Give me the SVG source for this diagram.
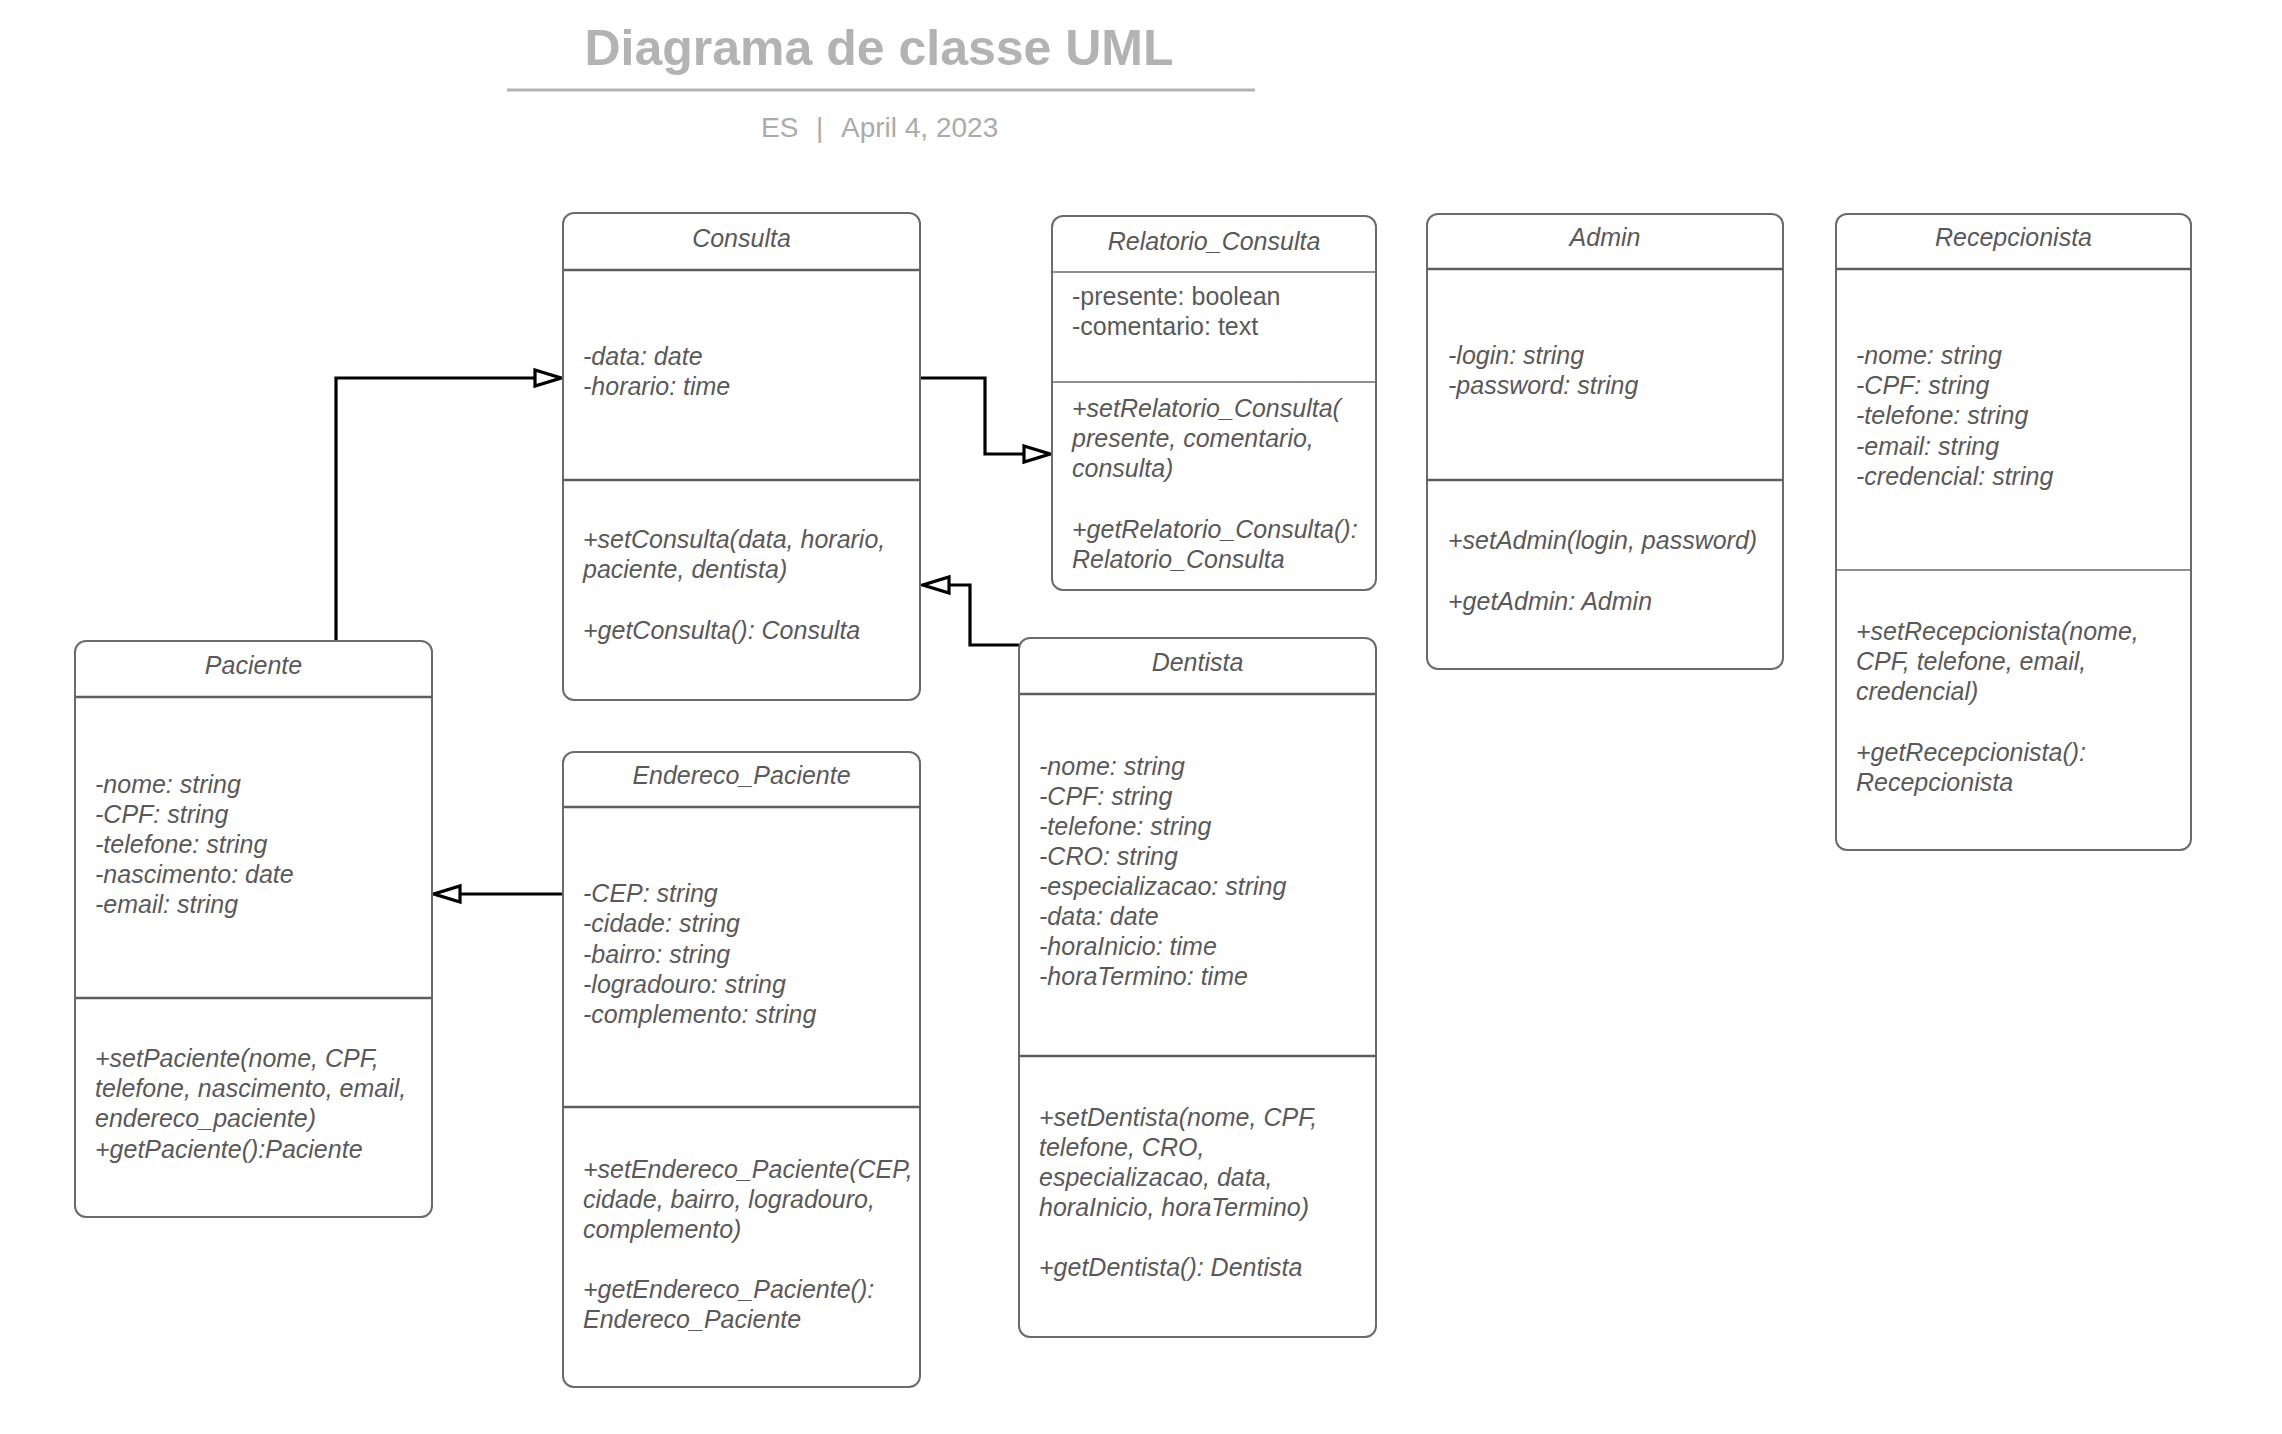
<svg xmlns="http://www.w3.org/2000/svg" width="2282" height="1434" viewBox="0 0 2282 1434">
<style>
.box{fill:#ffffff;stroke:#6b6b6b;stroke-width:2}
.sep{stroke:#5e5e5e;stroke-width:2.5;fill:none}
.sep-thin{stroke:#6b6b6b;stroke-width:1.6;fill:none}
.t{font-family:"Liberation Sans",Arial,sans-serif;font-size:25px;fill:#595959;font-style:italic}
.n{font-style:normal}
.name{text-anchor:middle}
.conn{fill:none;stroke:#000000;stroke-width:3.2}
.title{font-family:"Liberation Sans",Arial,sans-serif;font-weight:bold;font-size:50px;fill:#b3b3b3;text-anchor:middle}
.sub{font-family:"Liberation Sans",Arial,sans-serif;font-size:28px;fill:#ababab}
</style>
<defs>
<marker id="tri" markerUnits="userSpaceOnUse" markerWidth="34" markerHeight="24" viewBox="-3 -3 34 24" refX="26" refY="8" orient="auto">
<path d="M0,0 L26,8 L0,16 Z" fill="#ffffff" stroke="#000000" stroke-width="3.2" stroke-linejoin="miter"/>
</marker>
</defs>
<rect width="2282" height="1434" fill="#ffffff"/>

<g id="header">
<text class="title" x="879" y="65">Diagrama de classe UML</text>
<line x1="507" y1="90" x2="1255" y2="90" stroke="#b3b3b3" stroke-width="3"/>
<text class="sub" y="137"><tspan x="761">ES</tspan><tspan x="816">|</tspan><tspan x="841">April 4, 2023</tspan></text>
</g>

<g id="connectors">
<path class="conn" d="M336,641 V378 H561" marker-end="url(#tri)"/>
<path class="conn" d="M920,378 H985 V454 H1050" marker-end="url(#tri)"/>
<path class="conn" d="M1019,645 H970 V585 H923" marker-end="url(#tri)"/>
<path class="conn" d="M563,894 H434" marker-end="url(#tri)"/>
</g>

<g id="Consulta">
<rect class="box" x="563" y="213" width="357" height="487" rx="11"/>
<line class="sep" x1="563" y1="270" x2="920" y2="270"/>
<line class="sep" x1="563" y1="480" x2="920" y2="480"/>
<text class="t name" x="741.5" y="247">Consulta</text>
<text class="t" x="583" y="365">-data: date</text>
<text class="t" x="583" y="395">-horario: time</text>
<text class="t" x="583" y="548">+setConsulta(data, horario,</text>
<text class="t" x="583" y="578">paciente, dentista)</text>
<text class="t" x="583" y="639">+getConsulta(): Consulta</text>
</g>

<g id="Relatorio_Consulta">
<rect class="box" x="1052" y="216" width="324" height="374" rx="11"/>
<line class="sep-thin" x1="1052" y1="272" x2="1376" y2="272"/>
<line class="sep-thin" x1="1052" y1="382" x2="1376" y2="382"/>
<text class="t name" x="1214" y="250">Relatorio_Consulta</text>
<text class="t n" x="1072" y="305">-presente: boolean</text>
<text class="t n" x="1072" y="335">-comentario: text</text>
<text class="t" x="1072" y="417">+setRelatorio_Consulta(</text>
<text class="t" x="1072" y="447">presente, comentario,</text>
<text class="t" x="1072" y="477">consulta)</text>
<text class="t" x="1072" y="538">+getRelatorio_Consulta():</text>
<text class="t" x="1072" y="568">Relatorio_Consulta</text>
</g>

<g id="Admin">
<rect class="box" x="1427" y="214" width="356" height="455" rx="11"/>
<line class="sep" x1="1427" y1="269" x2="1783" y2="269"/>
<line class="sep" x1="1427" y1="480" x2="1783" y2="480"/>
<text class="t name" x="1605" y="246">Admin</text>
<text class="t" x="1448" y="364">-login: string</text>
<text class="t" x="1448" y="394">-password: string</text>
<text class="t" x="1448" y="549">+setAdmin(login, password)</text>
<text class="t" x="1448" y="610">+getAdmin: Admin</text>
</g>

<g id="Recepcionista">
<rect class="box" x="1836" y="214" width="355" height="636" rx="11"/>
<line class="sep" x1="1836" y1="269" x2="2191" y2="269"/>
<line class="sep-thin" x1="1836" y1="570" x2="2191" y2="570"/>
<text class="t name" x="2013.5" y="246">Recepcionista</text>
<text class="t" x="1856" y="364">-nome: string</text>
<text class="t" x="1856" y="394">-CPF: string</text>
<text class="t" x="1856" y="424">-telefone: string</text>
<text class="t" x="1856" y="455">-email: string</text>
<text class="t" x="1856" y="485">-credencial: string</text>
<text class="t" x="1856" y="640">+setRecepcionista(nome,</text>
<text class="t" x="1856" y="670">CPF, telefone, email,</text>
<text class="t" x="1856" y="700">credencial)</text>
<text class="t" x="1856" y="761">+getRecepcionista():</text>
<text class="t" x="1856" y="791">Recepcionista</text>
</g>

<g id="Paciente">
<rect class="box" x="75" y="641" width="357" height="576" rx="11"/>
<line class="sep" x1="75" y1="697" x2="432" y2="697"/>
<line class="sep" x1="75" y1="998" x2="432" y2="998"/>
<text class="t name" x="253.5" y="674">Paciente</text>
<text class="t" x="95" y="793">-nome: string</text>
<text class="t" x="95" y="823">-CPF: string</text>
<text class="t" x="95" y="853">-telefone: string</text>
<text class="t" x="95" y="883">-nascimento: date</text>
<text class="t" x="95" y="913">-email: string</text>
<text class="t" x="95" y="1067">+setPaciente(nome, CPF,</text>
<text class="t" x="95" y="1097">telefone, nascimento, email,</text>
<text class="t" x="95" y="1127">endereco_paciente)</text>
<text class="t" x="95" y="1158">+getPaciente():Paciente</text>
</g>

<g id="Endereco_Paciente">
<rect class="box" x="563" y="752" width="357" height="635" rx="11"/>
<line class="sep" x1="563" y1="807" x2="920" y2="807"/>
<line class="sep" x1="563" y1="1107" x2="920" y2="1107"/>
<text class="t name" x="741.5" y="784">Endereco_Paciente</text>
<text class="t" x="583" y="902">-CEP: string</text>
<text class="t" x="583" y="932">-cidade: string</text>
<text class="t" x="583" y="963">-bairro: string</text>
<text class="t" x="583" y="993">-logradouro: string</text>
<text class="t" x="583" y="1023">-complemento: string</text>
<text class="t" x="583" y="1178">+setEndereco_Paciente(CEP,</text>
<text class="t" x="583" y="1208">cidade, bairro, logradouro,</text>
<text class="t" x="583" y="1238">complemento)</text>
<text class="t" x="583" y="1298">+getEndereco_Paciente():</text>
<text class="t" x="583" y="1328">Endereco_Paciente</text>
</g>

<g id="Dentista">
<rect class="box" x="1019" y="638" width="357" height="699" rx="11"/>
<line class="sep" x1="1019" y1="694" x2="1376" y2="694"/>
<line class="sep" x1="1019" y1="1056" x2="1376" y2="1056"/>
<text class="t name" x="1197.5" y="671">Dentista</text>
<text class="t" x="1039" y="775">-nome: string</text>
<text class="t" x="1039" y="805">-CPF: string</text>
<text class="t" x="1039" y="835">-telefone: string</text>
<text class="t" x="1039" y="865">-CRO: string</text>
<text class="t" x="1039" y="895">-especializacao: string</text>
<text class="t" x="1039" y="925">-data: date</text>
<text class="t" x="1039" y="955">-horaInicio: time</text>
<text class="t" x="1039" y="985">-horaTermino: time</text>
<text class="t" x="1039" y="1126">+setDentista(nome, CPF,</text>
<text class="t" x="1039" y="1156">telefone, CRO,</text>
<text class="t" x="1039" y="1186">especializacao, data,</text>
<text class="t" x="1039" y="1216">horaInicio, horaTermino)</text>
<text class="t" x="1039" y="1276">+getDentista(): Dentista</text>
</g>
</svg>
